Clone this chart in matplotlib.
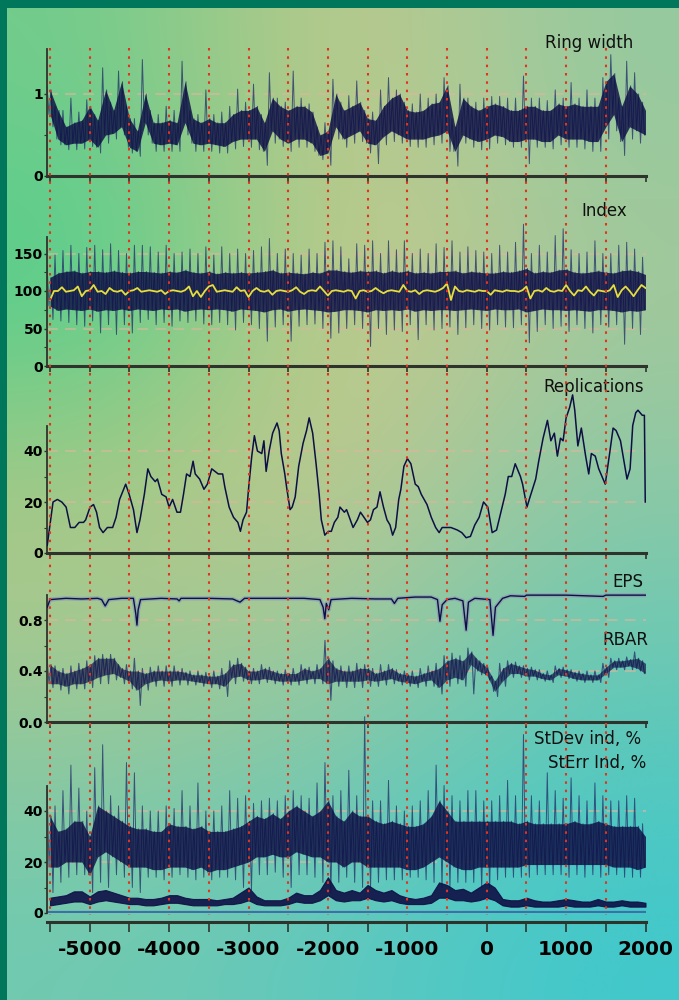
import numpy as np
import matplotlib
matplotlib.use("Agg")
import matplotlib.pyplot as plt
from matplotlib.colors import to_rgb
from matplotlib.lines import Line2D
import matplotlib.transforms as mtransforms

# ---------------- data (100-year bins from -5500 to 2000) ----------------
bin_start, bin_step = -5500, 100

rw_lo = [0.75,0.45,0.38,0.40,0.40,0.45,0.35,0.50,0.52,0.60,
         0.35,0.30,0.65,0.40,0.38,0.40,0.38,0.65,0.40,0.38,
         0.40,0.38,0.36,0.42,0.45,0.45,0.45,0.30,0.55,0.45,
         0.40,0.45,0.45,0.40,0.25,0.28,0.60,0.45,0.50,0.55,
         0.40,0.38,0.48,0.55,0.50,0.45,0.45,0.45,0.48,0.50,
         0.55,0.30,0.50,0.45,0.42,0.45,0.50,0.48,0.42,0.42,
         0.45,0.45,0.42,0.42,0.50,0.45,0.45,0.45,0.42,0.42,
         0.60,0.75,0.42,0.60,0.55,0.50]
rw_hi = [1.05,0.80,0.60,0.65,0.68,0.85,0.68,1.05,0.80,1.15,
         0.70,0.55,1.00,0.65,0.65,0.68,0.65,1.15,0.70,0.65,
         0.70,0.65,0.65,0.75,0.80,0.80,0.85,0.65,0.95,0.85,
         0.80,0.85,0.85,0.78,0.50,0.55,1.00,0.80,0.85,0.90,
         0.70,0.68,0.85,0.95,1.00,0.80,0.78,0.80,0.88,0.90,
         1.10,0.60,0.95,0.85,0.80,0.85,0.88,0.85,0.80,0.80,
         0.85,0.85,0.80,0.80,0.88,0.85,0.88,0.85,0.85,0.85,
         1.15,1.25,0.85,1.10,1.00,0.80]
rw_peak = [1.09,0.85,0.80,0.95,0.78,0.93,0.75,1.32,0.90,1.28,
           0.85,0.70,1.42,0.80,0.75,0.85,0.80,1.40,0.80,0.75,
           1.05,0.75,0.78,0.85,1.06,0.90,1.12,0.75,1.26,0.95,
           0.90,1.28,0.95,0.88,0.60,0.65,1.18,0.90,0.98,1.16,
           0.80,0.78,1.05,1.20,1.05,0.90,0.88,1.00,0.95,1.00,
           1.20,0.70,1.12,0.95,0.90,0.95,0.97,0.97,0.95,0.95,
           1.22,0.95,0.95,0.92,1.05,0.95,1.14,0.95,1.05,0.95,
           1.20,1.48,0.95,1.40,1.26,0.90]
rw_trough = [0.60,0.38,0.32,0.32,0.33,0.36,0.28,0.40,0.45,0.50,
             0.28,0.24,0.50,0.30,0.30,0.30,0.30,0.50,0.30,0.30,
             0.30,0.28,0.28,0.33,0.36,0.35,0.32,0.13,0.40,0.36,
             0.30,0.35,0.35,0.30,0.20,0.13,0.45,0.35,0.40,0.42,
             0.28,0.15,0.38,0.42,0.40,0.36,0.35,0.35,0.38,0.40,
             0.30,0.12,0.40,0.35,0.32,0.33,0.40,0.38,0.35,0.35,
             0.15,0.35,0.35,0.33,0.38,0.35,0.35,0.33,0.30,0.30,
             0.45,0.55,0.25,0.45,0.40,0.40]

idx_lo = [80,74,76,75,74,76,73,75,74,76,
          74,76,75,74,76,75,76,73,75,76,
          75,76,75,73,76,75,74,72,75,76,
          73,75,76,75,74,72,73,75,75,74,
          72,75,74,75,74,76,73,75,74,75,
          75,74,75,76,75,74,76,75,75,76,
          72,74,76,75,75,74,75,74,73,75,
          75,74,72,74,73,75]
idx_hi = [118,124,126,127,124,126,126,125,127,125,
          124,126,126,125,124,126,125,128,125,124,
          126,123,125,124,125,124,125,126,128,124,
          125,124,123,125,124,128,128,126,125,127,
          126,127,124,127,125,127,124,125,124,126,
          126,127,124,126,125,124,124,126,125,127,
          130,124,126,125,128,129,125,124,125,127,
          125,124,127,128,126,122]
idx_peak = [134,148,154,161,150,158,161,155,163,154,
            150,161,161,159,152,161,150,152,156,150,
            159,148,159,150,156,150,154,159,170,150,
            156,150,148,156,150,165,167,159,143,163,
            161,167,150,167,155,167,150,156,150,163,
            158,167,152,159,154,152,150,161,152,165,
            189,150,161,152,174,183,155,150,152,167,
            150,150,161,165,156,145]
idx_trough = [62,60,58,55,53,60,44,55,42,55,
              44,58,62,55,58,53,60,58,60,56,
              55,58,55,48,58,55,50,33,52,55,
              33,53,55,56,50,37,44,50,55,50,
              26,50,42,48,46,55,35,55,48,50,
              52,42,51,55,50,48,55,52,51,55,
              31,46,55,50,53,46,55,50,44,55,
              52,55,29,50,42,55]

# smoothed index (yellow), 50-year steps from -5500
idx_smooth = [88,100,100,105,99,100,101,106,93,100,
              101,108,99,100,96,104,100,99,101,95,
              100,101,104,99,100,101,100,99,101,96,
              100,101,100,99,101,106,93,100,92,100,
              106,108,99,100,101,100,99,105,100,101,
              92,100,104,100,99,101,95,100,101,100,
              99,101,105,99,96,100,101,100,106,100,
              94,100,101,100,99,101,100,90,100,101,
              99,100,104,100,97,100,101,100,99,108,
              100,99,101,96,100,101,100,99,101,104,
              110,88,106,100,99,101,100,99,101,100,
              100,95,101,100,99,101,100,100,99,101,
              106,90,100,101,99,104,100,99,101,100,
              108,100,94,101,100,106,99,94,101,100,
              99,101,108,92,101,106,100,93,101,108,
              104]

rep_years = [-5535,-5462,-5407,-5352,-5297,-5243,-5188,-5133,-5078,-5051,
             -4996,-4952,-4914,-4876,-4832,-4777,-4711,-4668,-4624,-4586,
             -4547,-4503,-4449,-4405,-4367,-4312,-4268,-4230,-4175,-4147,
             -4093,-4038,-4000,-3956,-3901,-3857,-3819,-3780,-3737,-3698,
             -3671,-3616,-3561,-3518,-3463,-3381,-3326,-3299,-3244,-3189,
             -3134,-3102,-3069,-3025,-2997,-2959,-2926,-2888,-2833,-2806,
             -2778,-2740,-2696,-2641,-2614,-2587,-2543,-2521,-2477,-2450,
             -2412,-2368,-2313,-2269,-2236,-2192,-2149,-2110,-2083,-2039,
             -1995,-1957,-1919,-1875,-1848,-1793,-1765,-1683,-1629,-1590,
             -1546,-1502,-1464,-1426,-1382,-1344,-1300,-1256,-1218,-1185,
             -1147,-1108,-1081,-1043,-999,-955,-900,-862,-824,-752,
             -698,-643,-599,-561,-451,-369,-314,-259,-205,-150,
             -95,-40,14,69,124,179,233,272,315,359,
             425,452,507,546,617,655,710,765,808,852,
             890,929,962,1000,1044,1082,1109,1148,1192,1246,
             1285,1318,1367,1411,1466,1493,1548,1592,1630,1685,
             1729,1767,1806,1839,1877,1905,1959,1986,1997]
rep_vals = [3,20,21,20,18,10,10,12,12,13,
            18,19,16,10,8,10,10,14,21,24,
            27,23,17,8,13,23,33,30,28,29,
            23,22,18,21,16,16,23,31,30,36,
            31,29,25,27,33,31,31,26,18,14,
            12,8.5,13,16,26,38,46,40,39,44,
            32,40,47,51,48,39,31,26,17,18,
            22,34,43,48,53,47,35,23,13,7,
            8.5,8.5,12,14,18,16,17,10,13,16,
            14,12,13,17,18,24,18,13,11,7,
            10,21,25,34,37,35,27,26,23,19,
            14,10,8,10,10,9,8,6,6.5,11,
            14,20,18,8,9,16,23,30,30,35,
            30,27,18,22,29,36,45,52,44,47,
            38,45,44,53,57,62,56,42,49,38,
            31,39,38,33,29,27,39,49,48,44,
            36,29,33,50,55,56,54,54,20]

eps_years = [-5535,-5500,-5300,-5100,-4900,-4850,-4805,-4760,-4600,-4450,
             -4420,-4405,-4390,-4360,-4100,-3900,-3874,-3850,-3500,-3200,
             -3107,-3050,-2700,-2300,-2100,-2060,-2039,-2020,-1990,-1960,
             -1700,-1400,-1200,-1163,-1120,-900,-700,-620,-589,-560,
             -500,-400,-300,-259,-230,-150,40,80,110,200,
             300,479,500,1000,1466,1500,2000]
eps_vals = [0.90,0.96,0.97,0.965,0.97,0.96,0.91,0.96,0.97,0.97,
            0.85,0.76,0.88,0.96,0.97,0.965,0.95,0.97,0.97,0.965,
            0.94,0.97,0.97,0.97,0.96,0.90,0.81,0.93,0.88,0.96,
            0.97,0.965,0.965,0.93,0.97,0.98,0.98,0.96,0.79,0.92,
            0.96,0.97,0.95,0.72,0.94,0.97,0.96,0.68,0.90,0.97,
            0.99,0.985,0.995,0.995,0.985,0.995,0.995]

rb_lo = [0.30,0.30,0.28,0.30,0.30,0.32,0.35,0.37,0.38,0.35,
         0.32,0.25,0.30,0.32,0.33,0.32,0.33,0.33,0.32,0.31,
         0.30,0.30,0.28,0.35,0.36,0.33,0.33,0.34,0.33,0.32,
         0.32,0.32,0.33,0.34,0.34,0.30,0.32,0.32,0.32,0.32,
         0.33,0.32,0.33,0.34,0.32,0.31,0.30,0.32,0.33,0.27,
         0.33,0.35,0.33,0.45,0.40,0.37,0.24,0.32,0.38,0.38,
         0.36,0.36,0.34,0.33,0.37,0.36,0.34,0.33,0.33,0.33,
         0.38,0.43,0.43,0.44,0.42,0.38]
rb_hi = [0.45,0.40,0.38,0.40,0.42,0.45,0.50,0.50,0.50,0.42,
         0.40,0.40,0.38,0.40,0.40,0.40,0.40,0.39,0.37,0.37,
         0.36,0.36,0.38,0.45,0.46,0.40,0.40,0.42,0.40,0.38,
         0.38,0.38,0.42,0.40,0.42,0.50,0.42,0.40,0.40,0.42,
         0.42,0.38,0.40,0.42,0.38,0.37,0.36,0.38,0.40,0.42,
         0.48,0.50,0.48,0.55,0.48,0.43,0.32,0.42,0.46,0.44,
         0.42,0.41,0.38,0.37,0.42,0.41,0.39,0.38,0.37,0.37,
         0.43,0.48,0.48,0.49,0.50,0.46]
rb_peak = [0.50,0.44,0.42,0.44,0.46,0.48,0.52,0.53,0.53,0.45,
           0.45,0.50,0.42,0.43,0.44,0.44,0.44,0.42,0.40,0.40,
           0.39,0.40,0.42,0.48,0.50,0.43,0.42,0.45,0.43,0.40,
           0.41,0.42,0.45,0.43,0.45,0.64,0.48,0.44,0.44,0.46,
           0.45,0.42,0.45,0.45,0.41,0.40,0.40,0.42,0.44,0.46,
           0.52,0.54,0.52,0.58,0.50,0.46,0.36,0.46,0.48,0.47,
           0.44,0.43,0.41,0.40,0.44,0.43,0.41,0.40,0.40,0.40,
           0.46,0.50,0.50,0.51,0.55,0.48]
rb_trough = [0.27,0.25,0.22,0.26,0.26,0.27,0.30,0.30,0.33,0.30,
             0.26,0.13,0.25,0.28,0.28,0.28,0.29,0.29,0.29,0.28,
             0.27,0.26,0.20,0.30,0.32,0.30,0.30,0.31,0.30,0.29,
             0.29,0.29,0.30,0.30,0.30,0.17,0.28,0.27,0.27,0.27,
             0.28,0.28,0.29,0.30,0.29,0.28,0.27,0.28,0.28,0.22,
             0.28,0.30,0.28,0.22,0.37,0.33,0.20,0.28,0.35,0.35,
             0.33,0.33,0.32,0.31,0.35,0.34,0.32,0.31,0.31,0.31,
             0.35,0.41,0.41,0.41,0.40,0.36]

sd_lo = [18,18,20,20,20,15,22,24,22,20,
         18,18,18,17,17,18,18,18,17,18,
         16,17,17,18,19,20,22,22,23,22,
         22,24,23,22,22,20,20,18,20,20,
         18,18,18,18,18,17,17,18,20,22,
         20,18,17,17,18,18,18,18,18,18,
         19,19,19,19,19,19,19,19,19,19,
         19,18,18,18,17,18]
sd_hi = [38,32,33,36,36,30,42,40,38,36,
         34,33,33,32,32,35,34,34,33,34,
         32,32,32,33,34,36,38,37,39,37,
         40,42,40,38,40,44,38,36,40,38,
         38,36,35,36,35,34,34,35,38,44,
         40,36,36,36,36,36,36,36,36,35,
         36,35,35,35,35,35,36,35,35,36,
         35,34,34,34,34,30]
sd_peak = [50,42,48,58,49,40,57,66,46,42,
           59,55,42,40,40,42,41,48,42,51,
           40,40,42,48,45,46,43,44,45,44,
           46,48,46,45,51,59,46,48,56,46,
           77,44,44,52,42,40,42,44,48,58,
           50,46,44,48,48,44,44,46,52,46,
           70,46,44,55,48,45,53,46,44,51,
           46,44,44,46,45,35]
sd_trough = [8,12,14,15,15,8,12,10,15,14,
             10,8,14,14,13,14,15,14,13,14,
             13,14,14,13,10,9,15,15,16,14,
             10,15,15,14,12,8,12,14,12,10,
             10,12,13,13,13,14,14,13,12,10,
             10,12,12,12,10,10,13,14,14,14,
             14,15,15,15,15,14,15,14,15,14,
             15,15,14,14,14,16]

se_lo = [3,3.5,4,4.5,4.5,3.5,4.5,5,4.5,4,
         3.5,3.5,3,3,3.5,4,4,3.5,3,3,
         3,3,3.5,3.5,4,5,3.5,3,3,3,
         3.5,4.5,4,4,5,7,5,4.5,5,5,
         6,5,4.5,5,4,3.5,3.5,3.5,4,6,
         6,5,5,4.5,5,6,5,3,2.5,2.5,
         3,2.5,2.5,2.5,2.5,3,2.5,2.5,2.5,3,
         2.5,2.5,3,2.5,2.5,2.5]
se_hi = [6,6.5,7,8.5,8.5,6.5,8.5,9,8,7,
         6,6,5.5,5.5,6,7,7,6,5.5,5.5,
         5.5,5,5.5,6,8,10,6.5,5,5,5,
         6,8,7,7,9,14,9,8,9,8,
         11,9,8,9,7,6,5.5,6,7,12,
         11,9,9.5,8,10,12,10,5.5,5,5,
         6,5,4.5,4.5,5,5.5,5,4.5,4.5,5.5,
         4.5,4.5,5,4.5,4.5,4]

xtick_years = list(range(-5500, 2001, 500))
xlabel_years = [-5000, -4000, -3000, -2000, -1000, 0, 1000, 2000]
guide_years = list(range(-5500, 1501, 500))

# ---------------- styling ----------------
W, H = 679, 1000
NAVY = '#0e0f45'
SPIKE = '#1f2c68'
AXC = '#2e342c'
XL = (-5538, 2000)
LEFT_PX, RIGHT_PX = 47, 645.5

fig = plt.figure(figsize=(W / 100, H / 100), dpi=100)

# background gradient
bg_cols = [['#70cc8c', '#c8c888', '#94caa0'],
           ['#48d08c', '#d4ca88', '#a4c89a'],
           ['#b2c884', '#c6c88c', '#88c8a8'],
           ['#9cc896', '#8ec8a4', '#60c8b8'],
           ['#70cab0', '#5ec8c0', '#40c8cc']]
bg = np.array([[to_rgb(c) for c in row] for row in bg_cols])
axbg = fig.add_axes([0, 0, 1, 1], zorder=-10)
axbg.imshow(bg, aspect='auto', interpolation='bicubic', extent=[0, 1, 0, 1], origin='upper')
axbg.set_xlim(0, 1); axbg.set_ylim(0, 1); axbg.axis('off')
axbg.add_patch(plt.Rectangle((0, 1 - 8 / H), 1, 8 / H, color='#00765a', lw=0))
axbg.add_patch(plt.Rectangle((0, 0), 6.5 / W, 1, color='#00765a', lw=0))


def bins(arr):
    return bin_start + bin_step * np.arange(len(arr))


def panel(zero_px, ymax, scale, spine_top, yticks, yminor, ylabels, grid):
    h = ymax * scale
    ax = fig.add_axes([LEFT_PX / W, 1 - zero_px / H, (RIGHT_PX - LEFT_PX) / W, h / H])
    ax.patch.set_alpha(0)
    ax.set_xlim(*XL)
    ax.set_ylim(0, ymax)
    for s in ('top', 'right'):
        ax.spines[s].set_visible(False)
    ax.spines['left'].set_bounds(0, spine_top)
    ax.spines['left'].set_color(AXC)
    ax.spines['left'].set_linewidth(1.3)
    ax.spines['bottom'].set_color(AXC)
    ax.spines['bottom'].set_linewidth(2.2)
    ax.set_xticks(xtick_years)
    ax.set_xticklabels([])
    ax.tick_params(axis='x', direction='out', length=4.5, width=1.2, color=AXC)
    ax.set_yticks(yticks)
    ax.set_yticklabels(ylabels, fontsize=10, fontweight='bold', family='DejaVu Sans')
    ax.set_yticks(yminor, minor=True)
    ax.tick_params(axis='y', which='major', direction='out', length=2.5, width=1.0, pad=0.5, color=AXC)
    ax.tick_params(axis='y', which='minor', direction='out', length=2, width=0.8, color=AXC)
    for g in grid:
        ax.axhline(g, color='#d8b89c', lw=1.3, ls=(0, (6, 4)), alpha=0.7, zorder=0.5)
    return ax


def band(ax, lo, hi, peak, trough, alpha=0.82, lw=0.7):
    n = min(len(lo), len(hi), len(peak), len(trough))
    x = bins(lo)[:n]
    lo, hi = np.asarray(lo[:n], float), np.asarray(hi[:n], float)
    peak, trough = np.asarray(peak[:n], float), np.asarray(trough[:n], float)
    # every read value is drawn once, at its own place inside its bin
    xs = np.column_stack([x - 37, x - 13, x + 13, x + 37]).ravel()
    ys = np.column_stack([peak, lo, hi, trough]).ravel()
    keep = (xs >= XL[0]) & (xs <= XL[1])
    ax.plot(xs[keep], ys[keep], color=SPIKE, lw=lw, alpha=0.75, zorder=2)
    ax.fill_between(x, lo, hi, color=NAVY, alpha=alpha, lw=0, zorder=3)


# Ring width
ax1 = panel(176, 1.6, 82, 1.55, [0, 1], [0.5], ['0', '1'], [1])
band(ax1, rw_lo, rw_hi, rw_peak, rw_trough)

# Index
ax2 = panel(366, 200, 0.75, 172, [0, 50, 100, 150], [25, 75, 125], ['0', '50', '100', '150'], [50, 150])
band(ax2, idx_lo, idx_hi, idx_peak, idx_trough)
ys = -5500 + 50 * np.arange(len(idx_smooth))
ax2.plot(ys, idx_smooth, color='#e6de3c', lw=1.3, zorder=4)

# Replications
ax3 = panel(553, 66, 2.55, 50, [0, 20, 40], [10, 30], ['0', '20', '40'], [20, 40])
ax3.plot(rep_years, rep_vals, color=NAVY, lw=1.1, zorder=3)

# EPS / RBAR
ax4 = panel(722, 1.2, 127.5, 1.0, [0.0, 0.4, 0.8], [0.2, 0.6], ['0.0', '0.4', '0.8'], [0.4, 0.8])
ax4.plot(eps_years, eps_vals, color='#8aa2b0', lw=3.0, alpha=0.85, zorder=2)
ax4.plot(eps_years, eps_vals, color=NAVY, lw=1.0, zorder=3)
band(ax4, rb_lo, rb_hi, rb_peak, rb_trough, alpha=0.65, lw=0.8)

# StDev / StErr
ax5 = panel(913, 80, 2.55, 50, [0, 20, 40], [10, 30], ['0', '20', '40'], [20, 40])
band(ax5, sd_lo, sd_hi, sd_peak, sd_trough)
n5 = min(len(se_lo), len(se_hi))
ax5.fill_between(bins(se_lo)[:n5], se_lo[:n5], se_hi[:n5], color=NAVY, alpha=0.9, lw=0.8, zorder=3)
ax5.axhline(0, color='#3f6fa8', lw=3, zorder=1)
ax5.spines['bottom'].set_position(('outward', 6.5))
ax5.tick_params(axis='x', length=7, width=1.2)
ax5.set_xticklabels([('%d' % y) if y in xlabel_years else '' for y in xtick_years],
                    fontsize=14.5, fontweight='bold', family='DejaVu Sans')
ax5.tick_params(axis='x', pad=6)

# red dotted guide lines across all panels
tr = mtransforms.blended_transform_factory(ax1.transData, fig.transFigure)
for gy in guide_years:
    fig.lines.append(Line2D([gy, gy], [1 - 48 / H, 1 - 915 / H], transform=tr,
                            color='#e4321e', lw=1.5, ls=(0, (1.2, 2.8)), zorder=5))

# panel titles
def title(txt, xr, yc):
    fig.text(xr / W, 1 - yc / H, txt, ha='right', va='center', fontsize=12,
             family='DejaVu Sans', color='#101010')

title('Ring width', 633, 43)
title('Index', 627, 211)
title('Replications', 644, 387)
title('EPS', 643, 582)
title('RBAR', 648, 640)
title('StDev ind, %', 641, 739)
title('StErr Ind, %', 646, 763)

fig.savefig('out.png', dpi=100)
